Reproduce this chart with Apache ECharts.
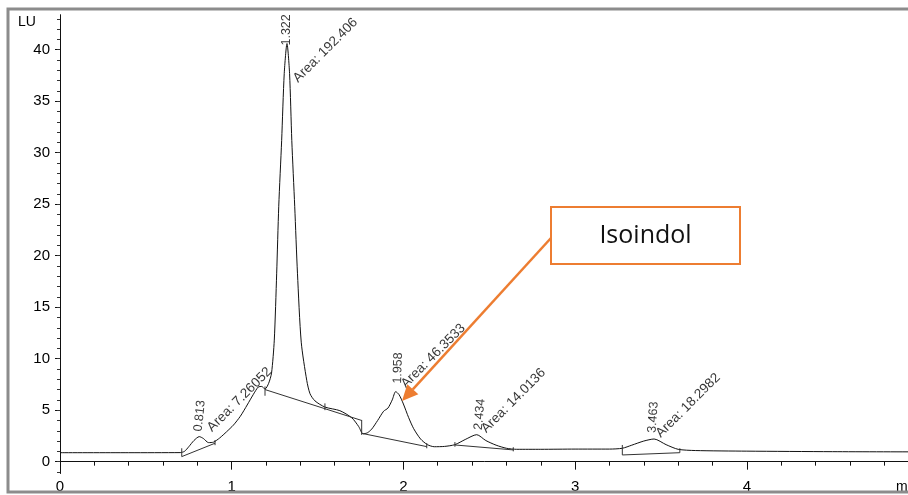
<!DOCTYPE html>
<html><head><meta charset="utf-8">
<script src="https://cdn.jsdelivr.net/npm/echarts@6/dist/echarts.min.js"></script>
<style>html,body{margin:0;padding:0;background:#fff}#c{width:908px;height:495px}</style>
</head><body><div id="c"></div>
<script>
// ---- data ----
const traceTimes  = [0.00,0.40,0.70,0.725,0.75,0.78,0.811,0.835,0.865,0.895,0.93,0.97,1.01,1.05,1.09,1.125,1.155,1.175,1.194,1.215,1.232,1.248,1.262,1.274,1.291,1.306,1.322,1.337,1.350,1.367,1.383,1.405,1.437,1.456,1.485,1.543,1.63,1.70,1.74,1.765,1.79,1.815,1.85,1.885,1.91,1.935,1.955,1.975,2.00,2.03,2.06,2.10,2.14,2.18,2.24,2.30,2.36,2.427,2.48,2.54,2.60,2.66,2.80,3.00,3.20,3.275,3.33,3.40,3.46,3.53,3.60,3.70,4.00,4.50,5.00];
const traceValues = [0.87,0.87,0.88,1.0,1.45,2.05,2.43,2.25,1.85,1.9,2.3,2.9,3.55,4.4,5.5,6.5,7.25,7.3,7.05,7.6,8.6,11.8,18.3,24.8,31.2,37.7,40.6,37.7,31.2,24.8,18.3,11.6,7.9,6.6,5.9,5.3,4.95,4.25,3.4,2.7,2.8,3.15,4.0,4.9,5.2,6.0,6.8,6.5,5.6,4.3,3.2,2.2,1.65,1.45,1.48,1.65,2.15,2.62,2.05,1.6,1.3,1.2,1.2,1.22,1.22,1.3,1.6,2.0,2.2,1.65,1.2,1.08,1.02,0.97,0.95];

const baselineStartTimes  = [0.709, 1.194, 1.757, 2.30, 3.275];
const baselineStartValues = [0.49, 7.0, 2.75, 1.62, 0.65];
const baselineEndTimes    = [0.903, 1.757, 2.136, 2.64, 3.61];
const baselineEndValues   = [1.79, 4.0, 1.46, 1.14, 0.87];

const dropTickTimes = [0.709, 0.903, 1.194, 1.543, 1.757, 2.136, 2.30, 2.64, 3.275, 3.61];
const dropTickLow   = [0.49, 1.6, 6.4, 5.0, 2.6, 1.3, 1.45, 1.0, 0.65, 0.87];
const dropTickHigh  = [1.3, 2.1, 7.3, 5.66, 4.05, 1.8, 1.9, 1.4, 1.62, 1.3];

const peakTimes   = [0.813, 1.322, 1.958, 2.434, 3.463];
const peakHeights = [2.43, 40.6, 6.8, 2.6, 2.2];
const peakLabels  = ['0.813', '1.322', '1.958', '2.434', '3.463'];
const areaLabels  = ['Area: 7.26052', 'Area: 192.406', 'Area: 46.3533', 'Area: 14.0136', 'Area: 18.2982'];

const xTickValues  = [0, 1, 2, 3, 4];
const yMajorTicks  = [0, 5, 10, 15, 20, 25, 30, 35, 40];
const yMinorTicks  = [-1,0,1,2,3,4,5,6,7,8,9,10,11,12,13,14,15,16,17,18,19,20,21,22,23,24,25,26,27,28,29,30,31,32,33,34,35,36,37,38,39,40,41,42,43];
const yUnit = 'LU';
const xUnit = 'min';
const annotationText = 'Isoindol';
const arrowTarget = [1.992, 5.88];

// ---- styles ----
const FONT = 'Liberation Sans, Arial, sans-serif';
const INK = '#000';
const ORANGE = '#ED7D31';
const numLabelRotate = [84, 90, 88, 85, 86];
const numLabelOffset = [[5, -2], [-2, 0], [8, 1], [5, 0], [6, -3]];
const areaLabelOffset = [[12, 2], [-20, 32], [9, 1], [7, 1], [5, 0]];

const chart = echarts.init(document.getElementById('c'), null, {renderer: 'canvas'});

const series = [];
series.push({
  type: 'line', name: 'trace', xAxisIndex: 0, yAxisIndex: 0,
  data: traceTimes.map((t, i) => [t, traceValues[i]]),
  showSymbol: false, smooth: 0.25, animation: false, silent: true,
  lineStyle: {color: '#111', width: 1}
});
for (let i = 0; i < baselineStartTimes.length; i++) {
  series.push({
    type: 'line', xAxisIndex: 0, yAxisIndex: 0, showSymbol: false, animation: false, silent: true,
    data: [[baselineStartTimes[i], baselineStartValues[i]], [baselineEndTimes[i], baselineEndValues[i]]],
    lineStyle: {color: '#333', width: 1}
  });
}
for (let i = 0; i < dropTickTimes.length; i++) {
  series.push({
    type: 'line', xAxisIndex: 0, yAxisIndex: 0, showSymbol: false, animation: false, silent: true,
    data: [[dropTickTimes[i], dropTickLow[i]], [dropTickTimes[i], dropTickHigh[i]]],
    lineStyle: {color: '#333', width: 1}
  });
}
series.push({
  type: 'scatter', xAxisIndex: 0, yAxisIndex: 0, symbolSize: 0, animation: false, silent: true,
  data: peakTimes.map((t, i) => ({
    value: [t, peakHeights[i]],
    label: {show: true, formatter: peakLabels[i], rotate: numLabelRotate[i], offset: numLabelOffset[i],
      position: 'inside', align: 'left', verticalAlign: 'middle', color: INK, fontSize: 12.5, fontFamily: FONT}
  }))
});
series.push({
  type: 'scatter', xAxisIndex: 0, yAxisIndex: 0, symbolSize: 0, animation: false, silent: true,
  data: peakTimes.map((t, i) => ({
    value: [t, peakHeights[i]],
    label: {show: true, formatter: areaLabels[i], rotate: 45, offset: areaLabelOffset[i],
      position: 'inside', align: 'left', verticalAlign: 'middle', color: INK, fontSize: 13.5, fontFamily: FONT}
  }))
});

const option = {
  backgroundColor: '#fff',
  animation: false,
  grid: {left: 60, right: -10.5, top: 14.7, bottom: 21.5, containLabel: false, outerBoundsMode: 'none'},
  xAxis: {
    type: 'value', min: 0, max: 5, interval: 1,
    axisLine: {show: true, lineStyle: {color: '#111', width: 1}},
    axisTick: {show: true, length: 8, lineStyle: {color: '#111'}},
    minorTick: {show: true, splitNumber: 5, length: 4, lineStyle: {color: '#111'}},
    splitLine: {show: false}, minorSplitLine: {show: false},
    axisLabel: {customValues: xTickValues, margin: 6, color: INK, fontSize: 15, fontFamily: FONT}
  },
  yAxis: [{
    type: 'value', min: -1.15, max: 43.4, position: 'left',
    axisLine: {show: true, lineStyle: {color: '#111', width: 1}},
    axisTick: {show: true, customValues: yMajorTicks, length: 5, lineStyle: {color: '#111'}},
    axisLabel: {customValues: yMajorTicks, margin: 10, color: INK, fontSize: 15, fontFamily: FONT},
    splitLine: {show: false}
  }, {
    type: 'value', min: -1.15, max: 43.4, position: 'left', offset: 0,
    axisLine: {show: false},
    axisTick: {show: true, customValues: yMinorTicks, length: 3, lineStyle: {color: '#333'}},
    axisLabel: {show: false},
    splitLine: {show: false}
  }],
  series: series
};
chart.setOption(option);

// annotation & frame
const tip = chart.convertToPixel({xAxisIndex: 0, yAxisIndex: 0}, arrowTarget);
const start = [551, 238];
const dx = tip[0] - start[0], dy = tip[1] - start[1];
const len = Math.sqrt(dx * dx + dy * dy);
const ux = dx / len, uy = dy / len;
const headL = 16, headW = 7.5;
const base = [tip[0] - ux * headL, tip[1] - uy * headL];
const p1 = [base[0] - uy * headW, base[1] + ux * headW];
const p2 = [base[0] + uy * headW, base[1] - ux * headW];

chart.setOption({
  graphic: [
    {type: 'rect', silent: true, z: 100, shape: {x: 8, y: 9, width: 920, height: 483},
      style: {fill: 'none', stroke: '#8c8c8c', lineWidth: 3}},
    {type: 'text', silent: true, z: 100, left: 18, top: 15,
      style: {text: yUnit, fill: INK, font: '14px ' + FONT}},
    {type: 'text', silent: true, z: 90, left: 896, top: 480,
      style: {text: xUnit, fill: INK, font: '14px ' + FONT}},
    {type: 'line', silent: true, z: 100, shape: {x1: start[0], y1: start[1], x2: base[0], y2: base[1]},
      style: {stroke: ORANGE, lineWidth: 2.5}},
    {type: 'polygon', silent: true, z: 100, shape: {points: [tip, p1, p2]}, style: {fill: ORANGE}},
    {type: 'rect', silent: true, z: 100, shape: {x: 551, y: 207, width: 189, height: 57},
      style: {fill: '#fff', stroke: ORANGE, lineWidth: 2}},
    {type: 'text', silent: true, z: 101, x: 645.5, y: 236,
      style: {text: annotationText, fill: '#111', font: '25px Open Sans, sans-serif', align: 'center', verticalAlign: 'middle'}}
  ]
});
</script>
</body></html>
